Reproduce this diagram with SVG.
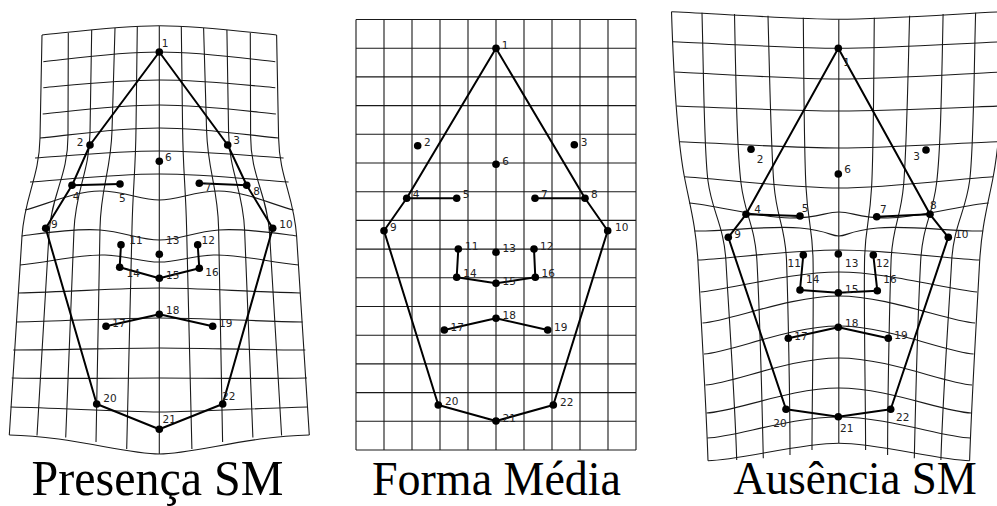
<svg xmlns="http://www.w3.org/2000/svg" xmlns:xlink="http://www.w3.org/1999/xlink" width="997" height="506" viewBox="0 0 997 506">
<defs>
<style>
.g{fill:none;stroke:#1a1a1a;stroke-width:1.1}
.c{fill:none;stroke:#000;stroke-width:2;stroke-linejoin:round}
.d{fill:#000}
.l{font-family:"DejaVu Sans",Verdana,sans-serif;font-size:10.5px;fill:#222;text-anchor:middle}
.t{font-family:"Liberation Serif","Times New Roman",serif;font-size:46px;fill:#000;text-anchor:middle}
</style>
</defs>
<rect width="997" height="506" fill="#fff"/>

<!-- Panel 1: Presença SM -->
<g id="grid-presenca" class="g">
  <g id="grid-presenca-half">
    <path d="M42,35 C72,32 118,25.7 159.3,25.7"/>
    <path d="M43.3,61.7 C73,58.5 118,52 159.3,52"/>
    <path d="M43.3,87.7 C73,85 118,80 159.3,80"/>
    <path d="M42.7,114 C72,111 118,105 159.3,105"/>
    <path d="M40,138 C70,135 118,128 159.3,128"/>
    <path d="M35,158 C65,156 118,151 159.3,151"/>
    <path d="M30,182 C60,180 115,174 159.3,174"/>
    <path d="M25,210 C45,205 75,191 100,191 S140,200 159.3,200"/>
    <path d="M21.7,236 C45,233 75,228 100,230 S140,240 159.3,240"/>
    <path d="M20,265 C50,262 80,254 105,255 S140,262 159.3,262"/>
    <path d="M18.3,293 C68,292 120,288 159.3,288"/>
    <path d="M16,322 C66,321 120,318 159.3,318"/>
    <path d="M13.3,350 C63,350 120,348 159.3,348"/>
    <path d="M11.7,378 C62,379 120,378 159.3,378"/>
    <path d="M10.7,407 C60,408 120,412 159.3,412"/>
    <path d="M9.3,435 C70,436 125,454 159.3,454"/>
    <path d="M42,35 L40,138 C39.2,178 24.6,196 22,236 L9.3,435"/>
    <path d="M68.3,33 L68,136 C68,176 51.4,194 49,234 L37,435.5"/>
    <path d="M91.7,30 L90,133 C89.2,173 75.5,190 74,230 L65.7,437.5"/>
    <path d="M115,28 L112,131 C110.8,171 100.7,188 100,228 L96,442"/>
    <path d="M137.3,26.5 L136,129 C135.6,169 132.9,188 132,228 L126.7,449"/>
  </g>
  <use xlink:href="#grid-presenca-half" href="#grid-presenca-half" transform="translate(318.6,0) scale(-1,1)"/>
  <path d="M159.3,25.7 L159.3,454"/>
</g>

<!-- Panel 2: Forma Média -->
<g id="grid-media" class="g">
  <path d="M356,19.5V450M384,19.5V450M412,19.5V450M440,19.5V450M468,19.5V450M496,19.5V450M524,19.5V450M552,19.5V450M580,19.5V450M608,19.5V450M636,19.5V450"/>
  <path d="M356,19.5H636M356,48.2H636M356,76.9H636M356,105.6H636M356,134.3H636M356,163H636M356,191.7H636M356,220.4H636M356,249.1H636M356,277.8H636M356,306.5H636M356,335.2H636M356,363.9H636M356,392.6H636M356,421.3H636M356,450H636"/>
</g>

<!-- Panel 3: Ausência SM -->
<g id="grid-ausencia" class="g">
  <g id="grid-ausencia-half">
    <path d="M671.5,11.7 C700,12.5 790,19.3 838.8,19.3"/>
    <path d="M672.8,41.7 C700,42.5 790,48.3 838.8,48.3"/>
    <path d="M674.5,72 C702,73 790,79 838.8,79"/>
    <path d="M676.5,106 C705,107 790,111 838.8,111"/>
    <path d="M679.5,141.7 C708,142.5 790,148 838.8,148"/>
    <path d="M684.5,176.7 C712,178 790,188 838.8,188"/>
    <path d="M689,203 C715,205 760,218 790,218 S825,212 838.8,212"/>
    <path d="M694.5,231 C720,232 770,225 800,228 S830,236 838.8,236"/>
    <path d="M698,260 C725,259 790,250 838.8,250"/>
    <path d="M700.5,292 C728,290 790,272 838.8,272"/>
    <path d="M702.5,323 C730,321 790,296 838.8,296"/>
    <path d="M704,354 C732,352 790,326 838.8,326"/>
    <path d="M705.5,385 C733,383 790,358 838.8,358"/>
    <path d="M706.5,413 C734,412 790,388 838.8,388"/>
    <path d="M707.3,438 C735,437 790,417 838.8,417"/>
    <path d="M708,460.7 C740,460 800,443.3 838.8,443.3"/>
    <path d="M671.5,11.7 C674,90 679,150 685,180 S696,228 698,262 C700,300 706,400 708,460.7"/>
    <path d="M702,12.7 C704,90 704,150 708,181 S724,225 726,262 C728,300 735,400 736.7,460"/>
    <path d="M734.5,14 C736,90 737,150 741,183 S755,225 757,262 C759,300 762,400 763.3,458.3"/>
    <path d="M768,15.7 C770,90 771,150 774,185 S785,225 786.5,260 C788,300 790,400 790,455"/>
    <path d="M803.3,17.7 C804,90 804,150 806,187 S812,225 813,258 C814,300 812,400 812,450"/>
  </g>
  <use xlink:href="#grid-ausencia-half" href="#grid-ausencia-half" transform="translate(1677.6,0) scale(-1,1)"/>
  <path d="M838.8,19.3 L838.8,443.3"/>
</g>

<!-- Connectors -->
<g id="connectors" class="c">
  <polygon points="159.3,52 90,145 72,185.3 45.7,228.3 96.7,404 159.3,429.3 222.7,404 272.7,228.3 246.7,185.3 227.7,145"/>
  <path d="M72,185.3 L120,184 M199.3,183.3 L246.7,185.3"/>
  <polyline points="121,244.7 119.7,267.3 159.3,278.3 199.3,268.3 197.7,244.7"/>
  <polyline points="106,326.3 159.3,314.3 212.7,326.3"/>

  <polygon points="496,48.3 406.7,198.3 384,230.7 438.3,405 496,421 553.3,405 607.7,230.7 585,198.3"/>
  <path d="M406.7,198.3 L456.7,198.3 M535,198.3 L585,198.3"/>
  <polyline points="458.3,249 456.7,277.3 496,283.3 535.3,277.3 534,249"/>
  <polyline points="444.3,330 496,318.3 547.7,330"/>

  <polygon points="838.3,48.3 746,214.3 728.3,237.3 786,409.3 838.3,416.7 890.7,409.3 948.3,237.3 930,214.3"/>
  <path d="M746,214.3 L800,216 M876.7,216.7 L930,214.3"/>
  <polyline points="803.3,255 800,290 838.3,292.7 877.3,290.7 873.3,255"/>
  <polyline points="788.3,338.3 838.3,327.3 888.3,338.3"/>
</g>

<!-- Landmarks: Presença SM -->
<g id="p1-lm1"><circle class="d" cx="159.3" cy="52" r="3.8"/><text class="l" x="165" y="46.5">1</text></g>
<g id="p1-lm2"><circle class="d" cx="90" cy="145" r="3.8"/><text class="l" x="80" y="145.5">2</text></g>
<g id="p1-lm3"><circle class="d" cx="227.7" cy="145" r="3.8"/><text class="l" x="236.7" y="144">3</text></g>
<g id="p1-lm4"><circle class="d" cx="72" cy="185.3" r="3.8"/><text class="l" x="76" y="200">4</text></g>
<g id="p1-lm5"><circle class="d" cx="120" cy="184" r="3.8"/><text class="l" x="122.3" y="201.5">5</text></g>
<g id="p1-lm6"><circle class="d" cx="159.3" cy="161.3" r="3.8"/><text class="l" x="168.3" y="161">6</text></g>
<g id="p1-lm7"><circle class="d" cx="199.3" cy="183.3" r="3.8"/><text class="l" x="208" y="190.5">7</text></g>
<g id="p1-lm8"><circle class="d" cx="246.7" cy="185.3" r="3.8"/><text class="l" x="256.7" y="195">8</text></g>
<g id="p1-lm9"><circle class="d" cx="45.7" cy="228.3" r="3.8"/><text class="l" x="54.3" y="228">9</text></g>
<g id="p1-lm10"><circle class="d" cx="272.7" cy="228.3" r="3.8"/><text class="l" x="286" y="228">10</text></g>
<g id="p1-lm11"><circle class="d" cx="121" cy="244.7" r="3.8"/><text class="l" x="136" y="244">11</text></g>
<g id="p1-lm12"><circle class="d" cx="197.7" cy="244.7" r="3.8"/><text class="l" x="208.3" y="244">12</text></g>
<g id="p1-lm13"><circle class="d" cx="159.3" cy="254.3" r="3.8"/><text class="l" x="172.7" y="244">13</text></g>
<g id="p1-lm14"><circle class="d" cx="119.7" cy="267.3" r="3.8"/><text class="l" x="133.3" y="277">14</text></g>
<g id="p1-lm15"><circle class="d" cx="159.3" cy="278.3" r="3.8"/><text class="l" x="172.7" y="279">15</text></g>
<g id="p1-lm16"><circle class="d" cx="199.3" cy="268.3" r="3.8"/><text class="l" x="212" y="276">16</text></g>
<g id="p1-lm17"><circle class="d" cx="106" cy="326.3" r="3.8"/><text class="l" x="119" y="327">17</text></g>
<g id="p1-lm18"><circle class="d" cx="159.3" cy="314.3" r="3.8"/><text class="l" x="172.7" y="314">18</text></g>
<g id="p1-lm19"><circle class="d" cx="212.7" cy="326.3" r="3.8"/><text class="l" x="225.7" y="327">19</text></g>
<g id="p1-lm20"><circle class="d" cx="96.7" cy="404" r="3.8"/><text class="l" x="110" y="402">20</text></g>
<g id="p1-lm21"><circle class="d" cx="159.3" cy="429.3" r="3.8"/><text class="l" x="169.3" y="423">21</text></g>
<g id="p1-lm22"><circle class="d" cx="222.7" cy="404" r="3.8"/><text class="l" x="228.7" y="399.5">22</text></g>

<!-- Landmarks: Forma Média -->
<g id="p2-lm1"><circle class="d" cx="496" cy="48.3" r="3.8"/><text class="l" x="505" y="48.8">1</text></g>
<g id="p2-lm2"><circle class="d" cx="417.7" cy="145.7" r="3.8"/><text class="l" x="427.3" y="146">2</text></g>
<g id="p2-lm3"><circle class="d" cx="574.3" cy="144.7" r="3.8"/><text class="l" x="584" y="146">3</text></g>
<g id="p2-lm4"><circle class="d" cx="406.7" cy="198.3" r="3.8"/><text class="l" x="416" y="198">4</text></g>
<g id="p2-lm5"><circle class="d" cx="456.7" cy="198.3" r="3.8"/><text class="l" x="466" y="198">5</text></g>
<g id="p2-lm6"><circle class="d" cx="496" cy="164.3" r="3.8"/><text class="l" x="505.7" y="164.5">6</text></g>
<g id="p2-lm7"><circle class="d" cx="535" cy="198.3" r="3.8"/><text class="l" x="544.3" y="198">7</text></g>
<g id="p2-lm8"><circle class="d" cx="585" cy="198.3" r="3.8"/><text class="l" x="594.3" y="198">8</text></g>
<g id="p2-lm9"><circle class="d" cx="384" cy="230.7" r="3.8"/><text class="l" x="393.3" y="231">9</text></g>
<g id="p2-lm10"><circle class="d" cx="607.7" cy="230.7" r="3.8"/><text class="l" x="621.7" y="231">10</text></g>
<g id="p2-lm11"><circle class="d" cx="458.3" cy="249" r="3.8"/><text class="l" x="471.7" y="249.5">11</text></g>
<g id="p2-lm12"><circle class="d" cx="534" cy="249" r="3.8"/><text class="l" x="546.7" y="249.5">12</text></g>
<g id="p2-lm13"><circle class="d" cx="496" cy="252.3" r="3.8"/><text class="l" x="509.3" y="252">13</text></g>
<g id="p2-lm14"><circle class="d" cx="456.7" cy="277.3" r="3.8"/><text class="l" x="470" y="277">14</text></g>
<g id="p2-lm15"><circle class="d" cx="496" cy="283.3" r="3.8"/><text class="l" x="509.3" y="284.8">15</text></g>
<g id="p2-lm16"><circle class="d" cx="535.3" cy="277.3" r="3.8"/><text class="l" x="548.3" y="277">16</text></g>
<g id="p2-lm17"><circle class="d" cx="444.3" cy="330" r="3.8"/><text class="l" x="457.3" y="331">17</text></g>
<g id="p2-lm18"><circle class="d" cx="496" cy="318.3" r="3.8"/><text class="l" x="509.3" y="318.8">18</text></g>
<g id="p2-lm19"><circle class="d" cx="547.7" cy="330" r="3.8"/><text class="l" x="560.7" y="330.5">19</text></g>
<g id="p2-lm20"><circle class="d" cx="438.3" cy="405" r="3.8"/><text class="l" x="451.7" y="404.8">20</text></g>
<g id="p2-lm21"><circle class="d" cx="496" cy="421" r="3.8"/><text class="l" x="509.3" y="421.5">21</text></g>
<g id="p2-lm22"><circle class="d" cx="553.3" cy="405" r="3.8"/><text class="l" x="566.7" y="405.5">22</text></g>

<!-- Landmarks: Ausência SM -->
<g id="p3-lm1"><circle class="d" cx="838.3" cy="48.3" r="3.8"/><text class="l" x="846.7" y="65.5">1</text></g>
<g id="p3-lm2"><circle class="d" cx="751" cy="149.3" r="3.8"/><text class="l" x="760" y="163">2</text></g>
<g id="p3-lm3"><circle class="d" cx="926" cy="150" r="3.8"/><text class="l" x="916.7" y="160">3</text></g>
<g id="p3-lm4"><circle class="d" cx="746" cy="214.3" r="3.8"/><text class="l" x="757.7" y="213">4</text></g>
<g id="p3-lm5"><circle class="d" cx="800" cy="216" r="3.8"/><text class="l" x="805" y="212">5</text></g>
<g id="p3-lm6"><circle class="d" cx="838.3" cy="174" r="3.8"/><text class="l" x="847.7" y="172.8">6</text></g>
<g id="p3-lm7"><circle class="d" cx="876.7" cy="216.7" r="3.8"/><text class="l" x="883.3" y="213">7</text></g>
<g id="p3-lm8"><circle class="d" cx="930" cy="214.3" r="3.8"/><text class="l" x="933.3" y="209">8</text></g>
<g id="p3-lm9"><circle class="d" cx="728.3" cy="237.3" r="3.8"/><text class="l" x="737.7" y="238">9</text></g>
<g id="p3-lm10"><circle class="d" cx="948.3" cy="237.3" r="3.8"/><text class="l" x="961.7" y="238">10</text></g>
<g id="p3-lm11"><circle class="d" cx="803.3" cy="255" r="3.8"/><text class="l" x="794.3" y="266.5">11</text></g>
<g id="p3-lm12"><circle class="d" cx="873.3" cy="255" r="3.8"/><text class="l" x="882.7" y="266.5">12</text></g>
<g id="p3-lm13"><circle class="d" cx="838.3" cy="254" r="3.8"/><text class="l" x="851.7" y="266.5">13</text></g>
<g id="p3-lm14"><circle class="d" cx="800" cy="290" r="3.8"/><text class="l" x="812.7" y="283">14</text></g>
<g id="p3-lm15"><circle class="d" cx="838.3" cy="292.7" r="3.8"/><text class="l" x="851.7" y="293">15</text></g>
<g id="p3-lm16"><circle class="d" cx="877.3" cy="290.7" r="3.8"/><text class="l" x="890" y="283">16</text></g>
<g id="p3-lm17"><circle class="d" cx="788.3" cy="338.3" r="3.8"/><text class="l" x="801" y="340">17</text></g>
<g id="p3-lm18"><circle class="d" cx="838.3" cy="327.3" r="3.8"/><text class="l" x="851.7" y="327">18</text></g>
<g id="p3-lm19"><circle class="d" cx="888.3" cy="338.3" r="3.8"/><text class="l" x="901" y="339">19</text></g>
<g id="p3-lm20"><circle class="d" cx="786" cy="409.3" r="3.8"/><text class="l" x="780" y="426.5">20</text></g>
<g id="p3-lm21"><circle class="d" cx="838.3" cy="416.7" r="3.8"/><text class="l" x="846.7" y="432">21</text></g>
<g id="p3-lm22"><circle class="d" cx="890.7" cy="409.3" r="3.8"/><text class="l" x="902.7" y="420.5">22</text></g>

<!-- Titles -->
<text class="t" style="font-size:48px" transform="translate(157.5,495) scale(1,1.05)">Presença SM</text>
<text class="t" transform="translate(496.5,495) scale(1,1.05)">Forma Média</text>
<text class="t" style="font-size:45px" transform="translate(855,494) scale(1,1.05)">Ausência SM</text>
</svg>
